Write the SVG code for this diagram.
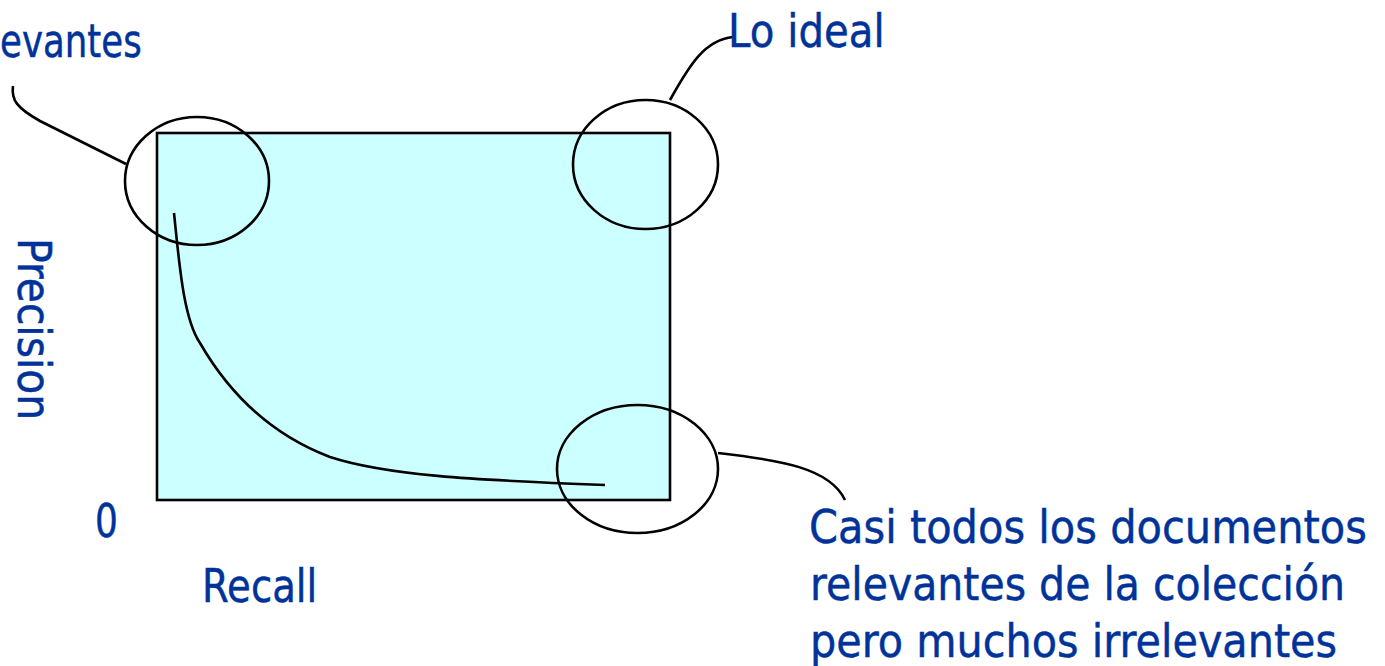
<svg xmlns="http://www.w3.org/2000/svg" width="1385" height="666" viewBox="0 0 1385 666">
  <style>
    .lbl { font-family: "DejaVu Sans", "Liberation Sans", sans-serif; font-size: 47px; fill: #003399; stroke: #003399; stroke-width: 0.5; }
    .ln { fill: none; stroke: #000; stroke-width: 2.6; }
  </style>
  <rect width="1385" height="666" fill="#fff"/>

  <!-- precision/recall plot area -->
  <g id="plot">
    <rect x="157" y="133" width="513" height="367" fill="#CCFFFF" stroke="#000" stroke-width="2.6"/>
    <path class="ln" d="M174,213 C179,260 183,318 200,343 C230,395 272,435 330,457 C385,475 470,480 605,485"/>
  </g>

  <!-- highlighted regions -->
  <g id="circle-top-left">
    <ellipse class="ln" cx="197" cy="181" rx="72" ry="64"/>
  </g>
  <g id="circle-top-right">
    <ellipse class="ln" cx="645.5" cy="164.5" rx="72.5" ry="64.5"/>
  </g>
  <g id="circle-bottom-right">
    <ellipse class="ln" cx="637.5" cy="469" rx="80.5" ry="64"/>
  </g>

  <!-- callout leaders -->
  <g id="connectors">
    <path class="ln" d="M13,86 C11,100 17,108 40,121 L126,164"/>
    <path class="ln" d="M670,100 C690,64 705,40 733,37"/>
    <path class="ln" d="M718,453 C780,460 830,468 845,500"/>
  </g>

  <!-- labels (narrowed horizontally) -->
  <g id="label-top-left">
    <text class="lbl" transform="translate(0,57) scale(0.88,1)" textLength="161" lengthAdjust="spacingAndGlyphs">evantes</text>
  </g>
  <g id="label-ideal">
    <text class="lbl" transform="translate(728,47) scale(0.88,1)" textLength="178" lengthAdjust="spacingAndGlyphs">Lo ideal</text>
  </g>
  <g id="axis-precision">
    <text class="lbl" transform="translate(18,238) rotate(90) scale(0.88,1)" textLength="207" lengthAdjust="spacingAndGlyphs">Precision</text>
  </g>
  <g id="axis-zero">
    <text class="lbl" transform="translate(95,537) scale(0.88,1)" textLength="26" lengthAdjust="spacingAndGlyphs">0</text>
  </g>
  <g id="axis-recall">
    <text class="lbl" transform="translate(202,602) scale(0.88,1)" textLength="131" lengthAdjust="spacingAndGlyphs">Recall</text>
  </g>
  <g id="label-bottom-right">
    <text class="lbl" transform="translate(809,543) scale(0.88,1)" textLength="634" lengthAdjust="spacingAndGlyphs">Casi todos los documentos</text>
    <text class="lbl" transform="translate(810,600) scale(0.88,1)" textLength="608" lengthAdjust="spacingAndGlyphs">relevantes de la colección</text>
    <text class="lbl" transform="translate(810,657) scale(0.88,1)" textLength="599" lengthAdjust="spacingAndGlyphs">pero muchos irrelevantes</text>
  </g>
</svg>
